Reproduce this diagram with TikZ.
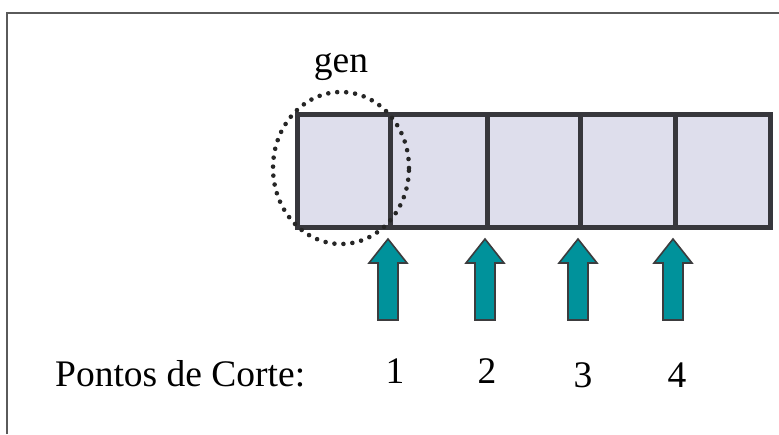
\documentclass[tikz,border=0pt]{standalone}
\usepackage{fontspec}
\usetikzlibrary{shapes.geometric}
\setmainfont{Liberation Serif}
\definecolor{cellfill}{RGB}{222,222,236}
\definecolor{celledge}{RGB}{55,55,60}
\definecolor{arrowfill}{RGB}{0,146,155}
\definecolor{arrowedge}{RGB}{60,60,62}
\definecolor{framegray}{RGB}{90,90,90}
\tikzset{
  cell/.style={draw=celledge, fill=cellfill, line width=5pt, rectangle,
    minimum height=113pt, inner sep=0pt, anchor=north west},
  gencircle/.style={draw=black!85, line width=4.6pt, line cap=round,
    dash pattern=on 0pt off 9pt},
  label/.style={font=\fontsize{37.5}{42}\selectfont, anchor=base, inner sep=0pt},
  arrowshape/.style={fill=arrowfill, draw=arrowedge, line width=1.6pt, line join=miter},
  cutarrow/.pic={
    \filldraw[arrowshape] (-10,0) -- (-10,-57) -- (-19,-57) -- (0,-81)
      -- (19,-57) -- (10,-57) -- (10,0) -- cycle;
  }
}
\begin{document}
\begin{tikzpicture}[x=1pt,y=-1pt]
\useasboundingbox (0,0) rectangle (779,434);
% page frame (top and left edges)
\draw[framegray, line width=1.4pt] (7,434) -- (7,13) -- (779,13);
% chromosome cells
\node[cell, minimum width=93pt] (c1) at (295,112) {};
\node[cell, minimum width=97pt] (c2) at (388,112) {};
\node[cell, minimum width=93pt] (c3) at (485,112) {};
\node[cell, minimum width=95pt] (c4) at (578,112) {};
\node[cell, minimum width=95pt] (c5) at (673,112) {};
% gene marker
\node[gencircle, ellipse, minimum width=136pt, minimum height=152pt, inner sep=0pt] (ring) at (341,168) {};
\node[label] (gen) at (341,72) {gen};
% cut-point arrows
\pic at (388,320) {cutarrow};
\pic at (485,320) {cutarrow};
\pic at (578,320) {cutarrow};
\pic at (673,320) {cutarrow};
% labels
\node[label, anchor=base west] (pc) at (55,386) {Pontos de Corte:};
\node[label] (n1) at (395,383) {1};
\node[label] (n2) at (487,383) {2};
\node[label] (n3) at (583,387) {3};
\node[label] (n4) at (677,387) {4};
\end{tikzpicture}
\end{document}
